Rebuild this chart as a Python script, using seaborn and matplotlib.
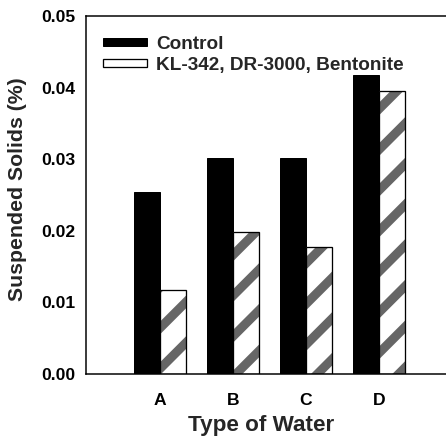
import numpy as np
import pandas as pd
import matplotlib
matplotlib.use("Agg")
import matplotlib.pyplot as plt
from matplotlib.patches import Patch, Rectangle
import seaborn as sns

# values
water_types = ["A", "B", "C", "D"]
control = [0.0254, 0.0302, 0.0302, 0.0417]
treated = [0.0117, 0.0198, 0.0178, 0.0395]
series_names = ["Control", "KL-342, DR-3000, Bentonite"]
y_ticks = [0.00, 0.01, 0.02, 0.03, 0.04, 0.05]

df = pd.DataFrame({
    "water": water_types * 2,
    "solids": control + treated,
    "treatment": [series_names[0]] * 4 + [series_names[1]] * 4,
})

DPI = 122


def px(n):
    # pixel size -> points at this dpi
    return n * 72 / DPI


sns.set_theme(style="white")
plt.rcParams["font.family"] = ["Liberation Sans", "DejaVu Sans"]
plt.rcParams["font.weight"] = "bold"
plt.rcParams["axes.labelweight"] = "bold"
plt.rcParams["hatch.linewidth"] = px(9)

fig = plt.figure(figsize=(446 / DPI, 440 / DPI), dpi=DPI)
ax = fig.add_axes([0.193, 0.15, 0.807, 0.8136])

sns.barplot(
    data=df, x="water", y="solids", hue="treatment",
    palette=["black", "white"], width=0.71, dodge=True,
    edgecolor="black", linewidth=px(1), legend=False, ax=ax,
)

# hatched second series: grey stripes, black outline on top
for bar in ax.containers[1]:
    bar.set_edgecolor("#666666")
    bar.set_hatch("/")
    bar.set_linewidth(0)
    ax.add_patch(Rectangle(bar.get_xy(), bar.get_width(), bar.get_height(),
                           fill=False, edgecolor="black", linewidth=px(1.3), zorder=3))

ax.set_xlim(-1.01, 3.92)
ax.set_ylim(0, 0.05)
ax.set_yticks(y_ticks)
ax.set_yticklabels([f"{v:.2f}" for v in y_ticks])
ax.tick_params(axis="both", length=0, labelsize=px(17.5), colors="black")
ax.tick_params(axis="y", pad=px(11))
ax.tick_params(axis="x", pad=px(19))

ax.set_xlabel("Type of Water", fontsize=px(22.5), fontweight="bold", labelpad=px(10))
ax.xaxis.set_label_coords(0.485, -0.115)
ax.set_ylabel("Suspended Solids (%)", fontsize=px(21.3), fontweight="bold")
ax.yaxis.set_label_coords(-0.163, 0.517)

for side in ["left", "bottom", "top"]:
    ax.spines[side].set_color("black")
    ax.spines[side].set_linewidth(px(1.5))
ax.spines["right"].set_visible(False)

handles = [
    Patch(facecolor="black", edgecolor="black", linewidth=px(1)),
    Patch(facecolor="white", edgecolor="black", linewidth=px(1.3)),
]
ax.legend(handles, series_names, loc="upper left", bbox_to_anchor=(0.047, 0.945),
          frameon=False, fontsize=px(19), handlelength=2.3, handleheight=0.28,
          handletextpad=0.5, labelspacing=0.2, borderpad=0, borderaxespad=0)

fig.savefig("out.png", dpi=DPI)
